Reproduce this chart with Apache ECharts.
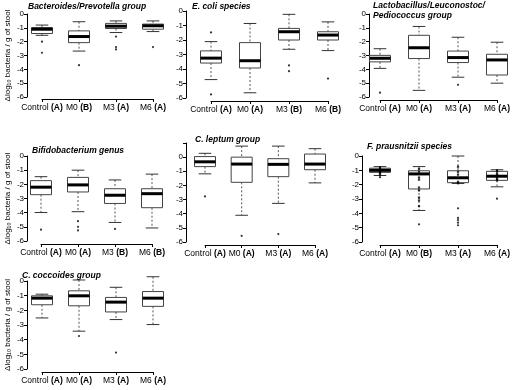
<!DOCTYPE html>
<html>
<head>
<meta charset="utf-8">
<script src="https://cdn.jsdelivr.net/npm/echarts@6/dist/echarts.min.js"></script>
<style>html,body{margin:0;padding:0;background:#fff;}#c{width:513px;height:390px;}</style>
</head>
<body>
<div id="c"></div>
<script>
// ---------- data ----------
const categories = ['Control', 'M0', 'M3', 'M6'];
const yTicks = [0, -1, -2, -3, -4, -5, -6];
const yAxisTitle = 'Δlog₁₀ bacteria / g of stool';

// box rows: [lowWhisker, Q1, median, Q3, highWhisker]
const bacteroidesTitle = 'Bacteroides/Prevotella group';
const bacteroidesLetters = ['A', 'B', 'A', 'A'];
const bacteroidesBox = [[-1.54, -1.41, -1.10, -0.98, -0.80], [-2.68, -2.07, -1.63, -1.22, -0.56], [-1.34, -1.05, -0.88, -0.68, -0.50], [-1.27, -1.10, -0.85, -0.73, -0.50]];
const bacteroidesOutliers = [['Control', -2.0], ['Control', -2.8], ['M0', -3.7], ['M3', -1.63], ['M3', -2.39], ['M3', -2.56], ['M6', -2.39]];

const ecoliTitle = 'E. coli species';
const ecoliLetters = ['A', 'A', 'B', 'B'];
const ecoliBox = [[-4.73, -3.59, -3.25, -2.75, -2.11], [-5.64, -3.93, -3.43, -2.18, -0.86], [-2.64, -2.00, -1.43, -1.20, -0.23], [-2.73, -2.00, -1.66, -1.43, -0.75]];
const ecoliOutliers = [['Control', -1.48], ['Control', -5.75], ['M3', -3.75], ['M3', -4.15], ['M6', -4.66]];

const lactoTitle = 'Lactobacillus/Leuconostoc/\nPediococcus group';
const lactoLetters = ['A', 'A', 'A', 'A'];
const lactoBox = [[-3.93, -3.46, -3.20, -2.99, -2.51], [-5.52, -3.22, -2.44, -1.54, -0.90], [-4.57, -3.51, -3.15, -2.68, -1.68], [-5.00, -4.41, -3.32, -2.91, -2.04]];
const lactoOutliers = [['Control', -5.69], ['M3', -5.12]];

const bifidoTitle = 'Bifidobacterium genus';
const bifidoLetters = ['A', 'A', 'B', 'B'];
const bifidoBox = [[-3.99, -2.73, -2.20, -1.74, -1.46], [-3.93, -2.54, -2.04, -1.51, -1.00], [-4.69, -3.35, -2.77, -2.31, -1.69], [-5.08, -3.65, -2.66, -2.31, -1.28]];
const bifidoOutliers = [['Control', -5.2], ['M0', -4.6], ['M0', -5.0], ['M0', -5.25], ['M3', -5.15]];

const leptumTitle = 'C. leptum group';
const leptumLetters = ['A', 'A', 'A', 'A'];
const leptumBox = [[-1.18, -0.67, -0.33, 0.04, 0.27], [-4.11, -1.78, -0.49, 0.00, 0.78], [-3.27, -1.38, -0.51, -0.11, 0.78], [-1.82, -0.89, -0.49, 0.22, 0.60]];
const leptumOutliers = [['Control', -2.78], ['M0', -5.56], ['M3', -5.44]];

const prausTitle = 'F. prausnitzii species';
const prausLetters = ['A', 'B', 'A', 'A'];
const prausBox = [[-1.36, -1.14, -1.00, -0.85, -0.74], [-3.80, -2.30, -1.25, -1.03, -0.74], [-1.92, -1.86, -1.52, -1.03, 0.00], [-2.15, -1.70, -1.41, -1.07, -0.96]];
const prausOutliers = [['Control', -1.48], ['M0', -4.77], ['M3', -3.65], ['M3', -4.32], ['M3', -4.47], ['M3', -4.65], ['M3', -4.83], ['M6', -2.98]];
const prausPoints = [['Control', -0.8], ['Control', -0.9], ['Control', -1.0], ['Control', -1.05], ['Control', -1.1], ['Control', -1.2], ['Control', -1.3],
  ['M0', -0.9], ['M0', -1.1], ['M0', -1.5], ['M0', -1.65], ['M0', -2.2], ['M0', -2.4], ['M0', -2.9], ['M0', -3.1], ['M0', -3.5],
  ['M3', -0.75], ['M3', -1.1], ['M3', -1.3], ['M3', -1.8], ['M3', -1.9],
  ['M6', -1.0], ['M6', -1.1], ['M6', -1.25], ['M6', -1.35], ['M6', -1.5], ['M6', -1.6], ['M6', -1.7]];

const coccoTitle = 'C. coccoides group';
const coccoLetters = ['A', 'A', 'A', 'A'];
const coccoBox = [[-2.52, -1.62, -1.17, -1.01, -0.90], [-3.42, -1.69, -1.01, -0.67, 0.07], [-2.63, -2.11, -1.44, -1.12, -0.43], [-2.97, -1.73, -1.17, -0.72, 0.29]];
const coccoOutliers = [['M0', -3.75], ['M3', -4.88]];

// ---------- layout (positions only) ----------
const panels = [
  {title: bacteroidesTitle, letters: bacteroidesLetters, box: bacteroidesBox, out: bacteroidesOutliers, left: 42, width: 111, top: 14, height: 83, axisX: 27, yMax: 0, xOff: 2, tLeft: 28, tTop: 1, yName: true},
  {title: ecoliTitle, letters: ecoliLetters, box: ecoliBox, out: ecoliOutliers, left: 211, width: 117, top: 11, height: 87, axisX: 186, yMax: 0, xOff: 3, tLeft: 192, tTop: 1},
  {title: lactoTitle, letters: lactoLetters, box: lactoBox, out: lactoOutliers, left: 380, width: 119, top: 14, height: 83, axisX: 369, yMax: 0, xOff: 3, tLeft: 373, tTop: 0},
  {title: bifidoTitle, letters: bifidoLetters, box: bifidoBox, out: bifidoOutliers, left: 41, width: 111, top: 156, height: 85, axisX: 27, yMax: 0, xOff: 3, tLeft: 32, tTop: 145, yName: true},
  {title: leptumTitle, letters: leptumLetters, box: leptumBox, out: leptumOutliers, left: 205, width: 110, top: 143, height: 99, axisX: 186, yMax: 1, xOff: 3, tLeft: 195, tTop: 134},
  {title: prausTitle, letters: prausLetters, box: prausBox, out: prausOutliers, pts: prausPoints, left: 380, width: 118, top: 156, height: 86, axisX: 362, yMax: 0, xOff: 3, tLeft: 367, tTop: 141},
  {title: coccoTitle, letters: coccoLetters, box: coccoBox, out: coccoOutliers, left: 42, width: 111, top: 281, height: 88, axisX: 27, yMax: 0, xOff: 3, tLeft: 22, tTop: 270, yName: true}
];

const FONT = 'Liberation Sans, Arial, sans-serif';
const BOXW = 21;

function renderBox(params, api) {
  const xi = api.value(0);
  const lo = api.coord([xi, api.value(1)]);
  const q1 = api.coord([xi, api.value(2)]);
  const md = api.coord([xi, api.value(3)]);
  const q3 = api.coord([xi, api.value(4)]);
  const hi = api.coord([xi, api.value(5)]);
  const cx = md[0], h = BOXW / 2, cap = BOXW * 0.3;
  const dash = {stroke: '#555', lineWidth: 1, lineDash: [2, 2]};
  const solid = {stroke: '#333', lineWidth: 1};
  return {type: 'group', children: [
    {type: 'line', shape: {x1: cx, y1: hi[1], x2: cx, y2: q3[1]}, style: dash},
    {type: 'line', shape: {x1: cx, y1: q1[1], x2: cx, y2: lo[1]}, style: dash},
    {type: 'line', shape: {x1: cx - cap, y1: hi[1], x2: cx + cap, y2: hi[1]}, style: solid},
    {type: 'line', shape: {x1: cx - cap, y1: lo[1], x2: cx + cap, y2: lo[1]}, style: solid},
    {type: 'rect', shape: {x: cx - h, y: q3[1], width: BOXW, height: q1[1] - q3[1]}, style: {fill: '#fff', stroke: '#444', lineWidth: 1}},
    {type: 'line', shape: {x1: cx - h, y1: md[1], x2: cx + h, y2: md[1]}, style: {stroke: '#000', lineWidth: 3}}
  ]};
}

const option = {animation: false, backgroundColor: '#fff', title: [], grid: [], xAxis: [], yAxis: [], series: []};

panels.forEach((p, i) => {
  option.title.push({text: p.title, left: p.tLeft, top: p.tTop, padding: 0,
    textStyle: {fontFamily: FONT, fontSize: 8.5, fontWeight: 'bold', fontStyle: 'italic', color: '#000', lineHeight: 10.5}});
  option.grid.push({left: p.left, top: p.top, width: p.width, height: p.height});
  option.xAxis.push({type: 'category', gridIndex: i, data: categories, boundaryGap: false, offset: p.xOff, position: 'bottom',
    axisLine: {show: true, onZero: false, lineStyle: {color: '#000', width: 1}},
    axisTick: {show: true, length: 3, lineStyle: {color: '#000'}},
    splitLine: {show: false},
    axisLabel: {margin: 4, interval: 0, color: '#000', fontFamily: FONT, fontSize: 8.5,
      formatter: (v, idx) => '{n|' + v + '} {b|(' + p.letters[idx] + ')}',
      rich: {n: {fontFamily: FONT, fontSize: 8.5, color: '#000'}, b: {fontFamily: FONT, fontSize: 8.5, fontWeight: 'bold', color: '#000'}}}});
  option.yAxis.push({type: 'value', gridIndex: i, min: -6, max: p.yMax, interval: 1, offset: p.left - p.axisX, position: 'left',
    name: p.yName ? yAxisTitle : '', nameLocation: 'middle', nameRotate: 90, nameGap: 15,
    nameTextStyle: {fontFamily: FONT, fontSize: 8, color: '#000'},
    axisLine: {show: true, onZero: false, lineStyle: {color: '#000', width: 1}},
    axisTick: {show: true, length: 3, lineStyle: {color: '#000'}},
    splitLine: {show: false},
    axisLabel: {margin: 3, color: '#000', fontFamily: FONT, fontSize: 8,
      formatter: v => (v > 0 ? '' : String(v))}});
  option.series.push({type: 'custom', xAxisIndex: i, yAxisIndex: i, renderItem: renderBox,
    encode: {x: 0, y: [1, 2, 3, 4, 5]}, clip: false,
    data: p.box.map((b, k) => [k].concat(b))});
  option.series.push({type: 'scatter', xAxisIndex: i, yAxisIndex: i, symbol: 'circle', symbolSize: 2.2,
    itemStyle: {color: '#000'}, data: p.out});
  if (p.pts) {
    option.series.push({type: 'scatter', xAxisIndex: i, yAxisIndex: i, symbol: 'rect', symbolSize: [2.2, 2.2],
      itemStyle: {color: '#000'}, data: p.pts, z: 5});
  }
});

const chart = echarts.init(document.getElementById('c'), null, {renderer: 'canvas'});
chart.setOption(option);
</script>
</body>
</html>
